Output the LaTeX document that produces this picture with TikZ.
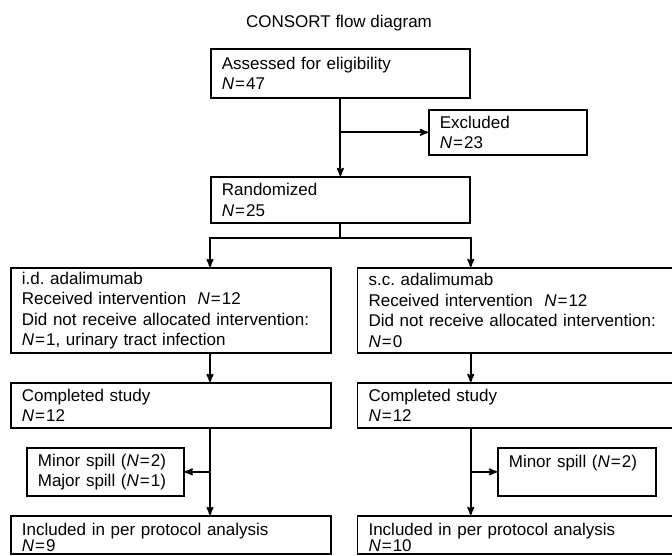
\documentclass[tikz,border=0pt]{standalone}
\usepackage{fontspec}
\setmainfont{Liberation Sans}
\usetikzlibrary{arrows,positioning}

\newcommand{\nval}[1]{\textit{N}\kern1pt=\kern1pt#1}

\begin{document}
\frenchspacing
\begin{tikzpicture}[x=1pt,y=1pt,->,>=stealth',line width=1.7pt,
                    font=\fontsize{17}{20.5}\selectfont]
                \tikzstyle{box}=[draw=black,line width=1.7pt,rectangle,anchor=north west,align=left,inner xsep=11pt,inner ysep=0pt]
                \tikzstyle{wide}=[box,text width=298pt,minimum height=45pt]
                \tikzstyle{link}=[draw=black,line width=1.8pt]

                \useasboundingbox (0,0) rectangle (672,-555);
                \clip (0,0) rectangle (672,-555);

                \node (title) at (339,-23) {CONSORT flow diagram};

                \node[box,text width=237pt,minimum height=49pt] (assess) at (210,-48)  {Assessed for eligibility\\ \nval{47}};
                \node[box,text width=136pt,minimum height=45pt] (excl)   at (428,-109) {Excluded\\\nval{23}};
                \node[box,text width=237pt,minimum height=46pt] (rand)   at (210,-176) {Randomized\\\nval{25}};

                \node[wide,minimum height=85pt] (idarm) at (10,-267)
                    {i.d. adalimumab\\Received intervention \ \nval{12}\\Did not receive allocated intervention:\\\nval{1}, urinary tract infection};
                \node[wide,minimum height=85pt] (scarm) [right=25pt of idarm.north east,anchor=north west]
                    {s.c. adalimumab\\Received intervention \ \nval{12}\\Did not receive allocated intervention:\\\nval{0}};

                \node[wide] (idcomp) at (10,-382)  {Completed study\\\nval{12}};
                \node[wide] (sccomp) [right=25pt of idcomp.north east,anchor=north west] {Completed study\\\nval{12}};

                \node[box,text width=135pt,minimum height=48pt] (idspill) at (26,-447)
                    {Minor spill (\nval{2})\\Major spill (\nval{1})};
                \node[box,text width=136pt,minimum height=48pt] (scspill) at (497,-447)
                    {Minor spill (\nval{2})\\\mbox{}};

                \node[wide,minimum height=0pt,inner ysep=7pt,text depth=12pt] (idincl) at (10,-515)
                    {Included in per protocol analysis\\[-4pt]\nval{9}};
                \node[wide,minimum height=0pt,inner ysep=7pt,text depth=12pt] (scincl) [right=25pt of idincl.north east,anchor=north west]
                    {Included in per protocol analysis\\[-4pt]\nval{10}};

                \coordinate (fork)  at (rand.south |- 0,-238);
                \coordinate (lfork) at (rand.south west);
                \coordinate (rfork) at (rand.south east);

                \draw[link] (assess) -- (rand);
                \draw[link] (assess.south |- excl.west) -- (excl.west);
                \draw[link,-] (rand) -- (fork);
                \draw[link] (fork) -| (lfork |- idarm.north);
                \draw[link] (fork) -| (rfork |- scarm.north);

                \draw[link] (lfork |- idarm.south) -- (lfork |- idcomp.north);
                \draw[link] (rfork |- scarm.south) -- (rfork |- sccomp.north);
                \draw[link] (lfork |- idcomp.south) -- (lfork |- idincl.north);
                \draw[link] (rfork |- sccomp.south) -- (rfork |- scincl.north);
                \draw[link] (lfork |- idspill.east) -- (idspill.east);
                \draw[link] (rfork |- scspill.west) -- (scspill.west);
            \end{tikzpicture}
\end{document}
